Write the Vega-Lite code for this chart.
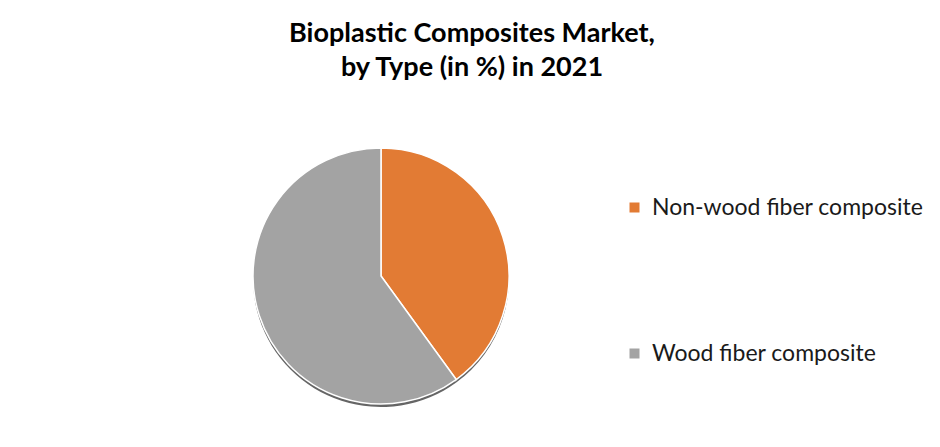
{
  "$schema": "https://vega.github.io/schema/vega-lite/v6.json",
  "autosize": {"type": "none"},
  "padding": {"top": 100, "left": 0, "right": 178, "bottom": 0},
  "width": 762,
  "height": 352,
  "background": "white",
  "title": {
    "text": ["Bioplastic Composites Market,", "by Type (in %) in 2021"],
    "font": "Lato",
    "fontSize": 27,
    "fontWeight": "bold",
    "color": "#000000",
    "lineHeight": 34,
    "anchor": "middle",
    "dx": 91,
    "offset": 18
  },
  "data": {
    "values": [
      {"type": "Non-wood fiber composite", "share": 40},
      {"type": "Wood fiber composite", "share": 60}
    ]
  },
  "config": {"view": {"stroke": null}},
  "layer": [
    {
      "mark": {"type": "arc", "radius": 128, "yOffset": 3, "color": "#4a4a4a", "opacity": 0.85},
      "encoding": {
        "theta": {"field": "share", "type": "quantitative", "stack": true}
      }
    },
    {
      "mark": {"type": "arc", "radius": 128, "stroke": "white", "strokeWidth": 1.5},
      "encoding": {
        "theta": {"field": "share", "type": "quantitative", "stack": true},
        "order": {"field": "share", "type": "quantitative", "sort": "ascending"},
        "color": {
          "field": "type",
          "type": "nominal",
          "scale": {"domain": ["Non-wood fiber composite", "Wood fiber composite"], "range": ["#E27B34", "#A3A3A3"]},
          "legend": {
            "title": null,
            "orient": "none",
            "legendX": 623,
            "legendY": 96,
            "symbolType": "square",
            "symbolSize": 100,
            "symbolStrokeWidth": 0,
            "labelFont": "Lato",
            "labelFontSize": 23,
            "labelColor": "#1a1a1a",
            "labelOffset": 6,
            "rowPadding": 122,
            "labelLimit": 400
          }
        }
      }
    }
  ]
}
